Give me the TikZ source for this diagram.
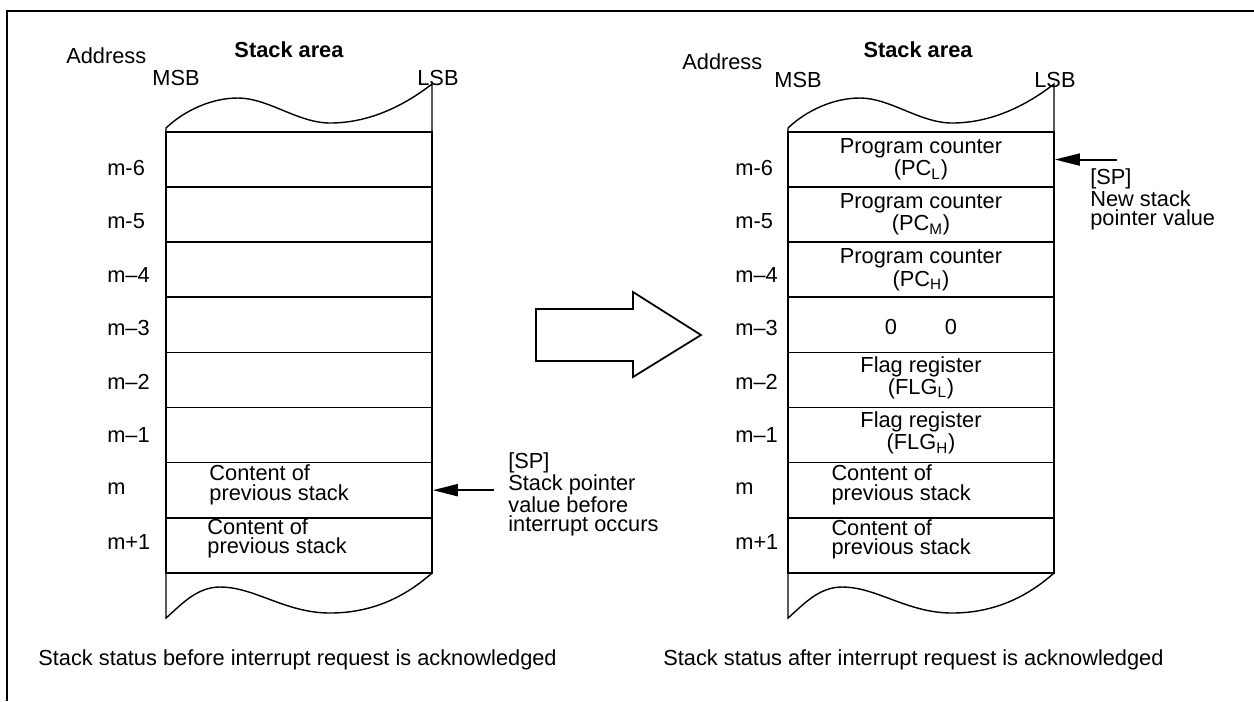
\documentclass[tikz,border=0pt]{standalone}
\usepackage{fontspec}
\setmainfont{Liberation Sans}
\usetikzlibrary{arrows.meta, positioning, calc}

\begin{document}
\begin{tikzpicture}[x=0.02cm, y=-0.02cm,
  every node/.style={font=\fontsize{12.4}{11}\selectfont, inner sep=0pt},
  hdr/.style={font=\fontsize{12.4}{12}\selectfont\bfseries},
  cell/.style={draw, line width=1pt, minimum width=5.32cm, minimum height=1.102cm},
  regtext/.style={align=center, font=\fontsize{12.4}{12.6}\selectfont},
  prevtext/.style={anchor=west, align=left, font=\fontsize{12.4}{11.2}\selectfont},
  note/.style={anchor=north west, align=left, font=\fontsize{12.4}{10.9}\selectfont},
  wave/.style={line width=0.8pt},
  sparrow/.style={-{Triangle[length=5mm, width=2.4mm]}, line width=1.1pt}]

% Page frame (only top and left edges show)
\useasboundingbox (0,0) rectangle (1254,701);
\draw[line width=1.1pt] (7,701) -- (7,11) -- (1254,11);

% =========== Two stack columns ===========
\foreach \s/\side/\ax in {0/L/107, 622/R/113} {
  \begin{scope}[xshift=\s*0.02cm]
    % cells m-6 ... m+1
    \foreach \i in {1,...,8}
      \node[cell] (\side\i) at (299, 104.45+55.1*\i) {};
    % torn top edge
    \draw[wave] (166,132) -- (166,128)
      .. controls (185,110) and (212,98) .. (238,98)
      .. controls (268,98) and (298,123) .. (330,123)
      .. controls (370,123) and (405,105) .. (432,84) -- (432,132);
    % torn bottom edge
    \draw[wave] (432,573)
      .. controls (405,597) and (372,613) .. (330,613)
      .. controls (285,613) and (255,587) .. (220,587)
      .. controls (196,587) and (180,606) .. (166,618) -- (166,573);
    % addresses
    \foreach \lab [count=\i] in {m-6, m-5, m–4, m–3, m–2, m–1, m, m+1}
      \node[anchor=west] (a\side\i) at (\ax, 168+53.4*\i-53.4) {\lab};
  \end{scope}
}

% Headings
\node[hdr] (areaL) at (289,50) {Stack area};
\node[anchor=west] (addrL) at (66,56) {Address};
\node[anchor=west] (msbL) at (152,78) {MSB};
\node[anchor=west] (lsbL) at (417,78) {LSB};

\node[hdr] (areaR) at (918,50) {Stack area};
\node[anchor=west] (addrR) at (682,62) {Address};
\node[anchor=west] (msbR) at (774,80) {MSB};
\node[anchor=west] (lsbR) at (1034,80) {LSB};

% Left stack contents
\node[prevtext] (L7t) at ([xshift=0.88cm, yshift=1mm]L7.west) {Content of\\previous stack};
\node[prevtext] (L8t) at ([xshift=0.84cm, yshift=1.4mm]L8.west) {Content of\\previous stack};

% Right stack contents
\node[regtext] (R1t) at (R1) {Program counter\\(PC\textsubscript{L})};
\node[regtext] (R2t) at (R2) {Program counter\\(PC\textsubscript{M})};
\node[regtext] (R3t) at (R3) {Program counter\\(PC\textsubscript{H})};
\node[regtext] (R4t) at ([yshift=-0.5mm]R4) {0\hspace{2.2em}0};
\node[regtext] (R5t) at ([yshift=0.4mm]R5) {Flag register\\(FLG\textsubscript{L})};
\node[regtext] (R6t) at ([yshift=0.4mm]R6) {Flag register\\(FLG\textsubscript{H})};
\node[prevtext] (R7t) at ([xshift=0.88cm, yshift=1mm]R7.west) {Content of\\previous stack};
\node[prevtext] (R8t) at ([xshift=0.88cm, yshift=1.2mm]R8.west) {Content of\\previous stack};

% Stack pointer markers
\coordinate[right=1.22cm of L7.east] (spL);
\draw[sparrow] (spL) -- (L7);
\node[note] (spLt) at (508,452) {[SP]\\Stack pointer\\value before\\interrupt occurs};

\coordinate[right=1.24cm of R1.east] (spR);
\draw[sparrow] (spR) -- (R1);
\node[note] (spRt) at (1090,168) {[SP]\\New stack\\pointer value};

% Hollow transition arrow
\draw[line width=1pt, line join=miter] (536,309) -- (633,309) -- (633,292) -- (701,335)
  -- (633,377) -- (633,361) -- (536,361) -- cycle;

% Captions
\node[anchor=west] (capL) at (38,660) {Stack status before interrupt request is acknowledged};
\node[anchor=west] (capR) at (663,660) {Stack status after interrupt request is acknowledged};

\end{tikzpicture}
\end{document}
